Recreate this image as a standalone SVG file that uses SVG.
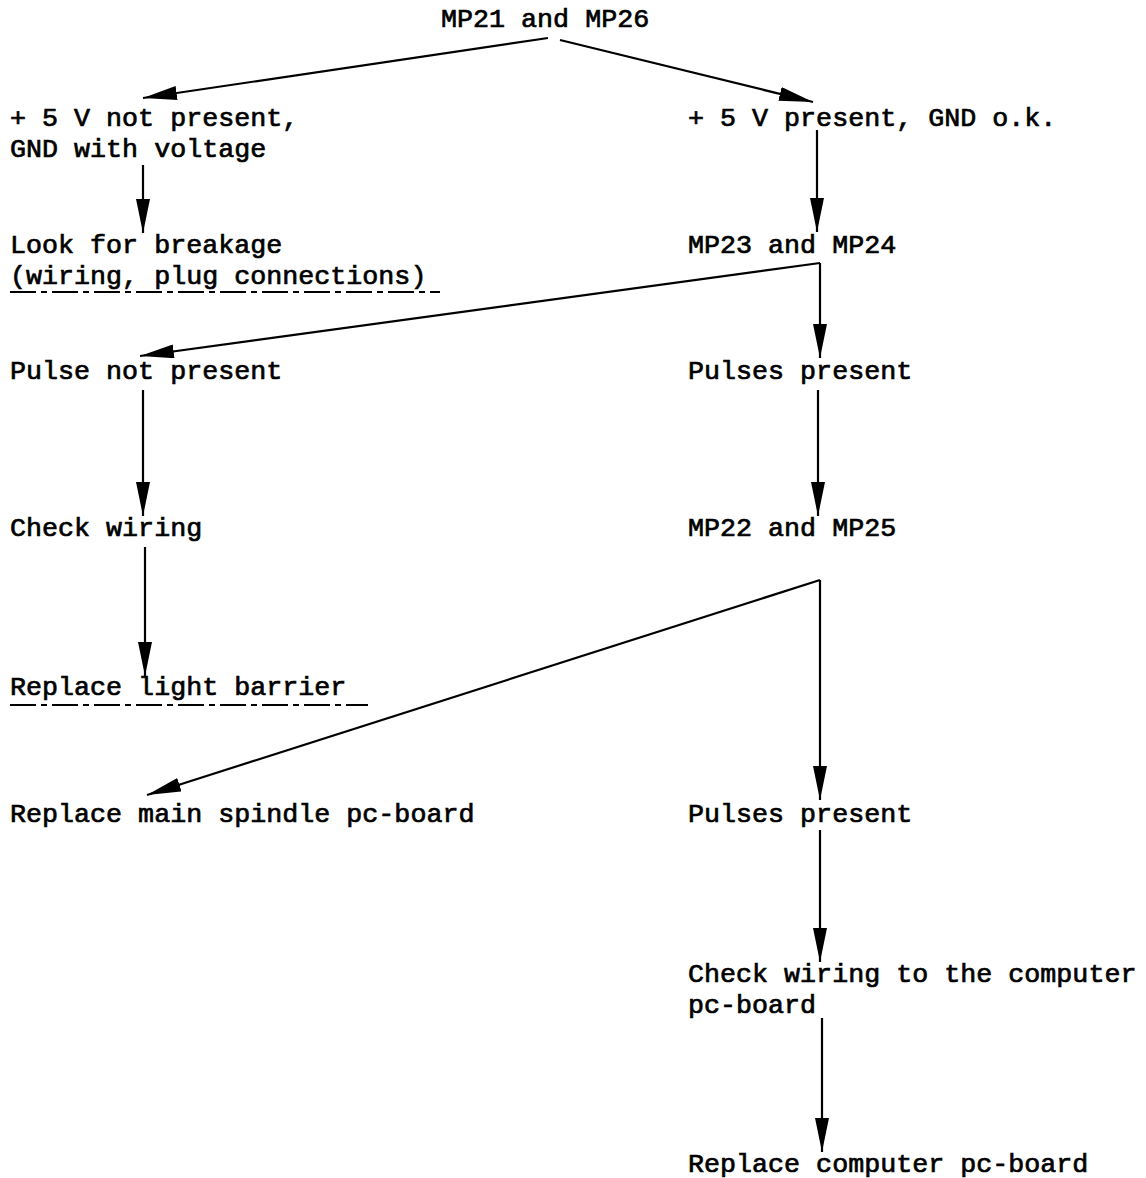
<svg xmlns="http://www.w3.org/2000/svg" width="1146" height="1178" viewBox="0 0 1146 1178">
<defs>
<style>
text{font-family:"Liberation Mono","Courier New",monospace;font-size:26.7px;fill:#000;stroke:#000;stroke-width:0.7px;}
.c{stroke:#000;stroke-width:2.2;fill:none;}
.u{stroke:#000;stroke-width:2;fill:none;stroke-dasharray:26 5 6 5;}
</style>
<marker id="ah" viewBox="0 0 34 14" refX="34" refY="7" markerWidth="34" markerHeight="14" markerUnits="userSpaceOnUse" orient="auto">
<path d="M0,0 L34,7 L0,14 Z" fill="#000"/>
</marker>
</defs>
<rect width="1146" height="1178" fill="#fff"/>
<g id="connectors">
<path class="c" d="M548,38 L143,98" marker-end="url(#ah)"/>
<path class="c" d="M560,40 L813,102" marker-end="url(#ah)"/>
<path class="c" d="M143,165 L143,233" marker-end="url(#ah)"/>
<path class="c" d="M817,130 L817,232" marker-end="url(#ah)"/>
<path class="c" d="M820,263 L140,356" marker-end="url(#ah)"/>
<path class="c" d="M820,263 L820,358" marker-end="url(#ah)"/>
<path class="c" d="M143,390 L143,516" marker-end="url(#ah)"/>
<path class="c" d="M818,390 L818,516" marker-end="url(#ah)"/>
<path class="c" d="M145,547 L145,676" marker-end="url(#ah)"/>
<path class="c" d="M820,580 L147,795" marker-end="url(#ah)"/>
<path class="c" d="M820,580 L820,800" marker-end="url(#ah)"/>
<path class="c" d="M820,830 L820,962" marker-end="url(#ah)"/>
<path class="c" d="M822,1018 L822,1152" marker-end="url(#ah)"/>
</g>
<g id="n-mp21"><text x="441" y="27">MP21 and MP26</text></g>
<g id="n-5v-not"><text x="10" y="126">+ 5 V not present,</text><text x="10" y="157">GND with voltage</text></g>
<g id="n-5v-ok"><text x="688" y="126">+ 5 V present, GND o.k.</text></g>
<g id="n-breakage"><text x="10" y="253">Look for breakage</text><text x="10" y="284">(wiring, plug connections)</text><path class="u" d="M10,292 L440,292"/></g>
<g id="n-mp23"><text x="688" y="253">MP23 and MP24</text></g>
<g id="n-pulse-not"><text x="10" y="379">Pulse not present</text></g>
<g id="n-pulses1"><text x="688" y="379">Pulses present</text></g>
<g id="n-check-wiring"><text x="10" y="536">Check wiring</text></g>
<g id="n-mp22"><text x="688" y="536">MP22 and MP25</text></g>
<g id="n-light"><text x="10" y="695">Replace light barrier</text><path class="u" d="M10,705 L368,705"/></g>
<g id="n-spindle"><text x="10" y="822">Replace main spindle pc-board</text></g>
<g id="n-pulses2"><text x="688" y="822">Pulses present</text></g>
<g id="n-check-comp"><text x="688" y="982">Check wiring to the computer</text><text x="688" y="1013">pc-board</text></g>
<g id="n-replace-comp"><text x="688" y="1172">Replace computer pc-board</text></g>
</svg>
